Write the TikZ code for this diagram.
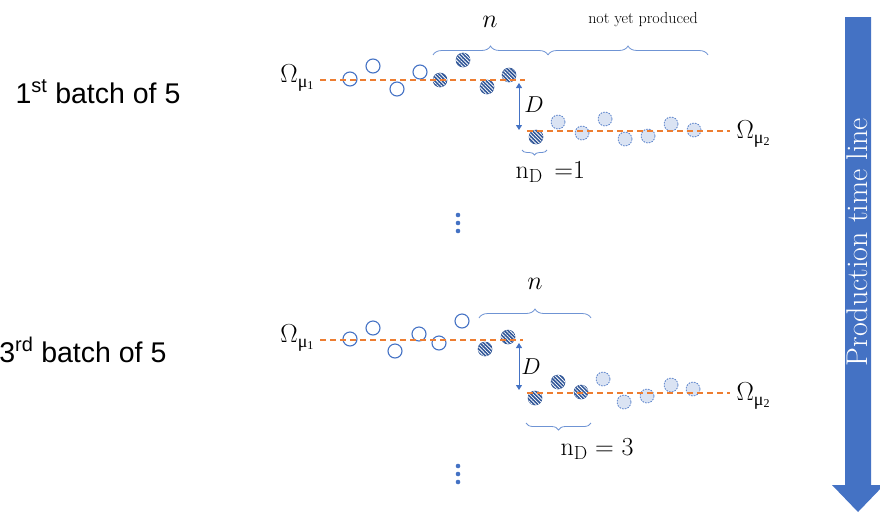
\RequirePackage{fix-cm}
\documentclass[tikz,border=0pt]{standalone}
\usepackage{amsmath}
\usepackage{fontspec}
\newfontfamily\sansf{Liberation Sans}
\newfontfamily\greekf{Liberation Serif}
\usetikzlibrary{positioning,arrows.meta,patterns.meta,decorations.pathreplacing}
\definecolor{cblue}{HTML}{4472C4}
\definecolor{cdark}{HTML}{2F5597}
\definecolor{clight}{HTML}{DAE3F3}
\definecolor{corange}{HTML}{ED7D31}
\definecolor{cbrace}{HTML}{6F94D4}
\newcommand{\omu}[1]{$\Omega$\raisebox{-5pt}{\greekf\fontsize{18}{18}\selectfont μ\raisebox{-2pt}{\fontsize{12}{12}\selectfont #1}}}
\newcommand{\nsub}{n\raisebox{-4pt}{\fontsize{19}{19}\selectfont D}}

\tikzset{
  good/.style={circle,draw=cblue,line width=1.1pt,minimum size=14pt,inner sep=0pt},
  defect/.style={circle,draw=cdark,fill=cdark,line width=0.6pt,minimum size=14pt,inner sep=0pt,
    postaction={pattern={Lines[angle=-45,distance=2.6pt,line width=0.8pt]},pattern color=white}},
  later/.style={circle,draw=cblue,fill=clight,line width=0.7pt,dash pattern=on 1.6pt off 1.2pt,minimum size=14pt,inner sep=0pt},
  level/.style={corange,line width=1.8pt,dash pattern=on 6pt off 4pt},
  grp/.style={decorate,decoration={brace,amplitude=#1},cbrace,line width=0.8pt},
  shiftarrow/.style={{Triangle[length=5pt,width=6pt]}-{Triangle[length=5pt,width=6pt]},cblue,line width=1pt},
  batch/.style={font=\sansf\fontsize{28.5}{32}\selectfont,anchor=base east},
  sym/.style={font=\fontsize{26}{30}\selectfont},
}

\begin{document}
\begin{tikzpicture}[x=1pt,y=-1pt]
  \useasboundingbox (0,0) rectangle (880,512);

  % production time line
  \fill[cblue] (845,17) -- (871,17) -- (871,485) -- (884,485) -- (858,512) -- (832,485) -- (845,485) -- cycle;
  \node[rotate=90,anchor=base,text=white,font=\fontsize{30}{34}\selectfont] (tline) at (867,242) {Production time line};

  \node[batch] (b1) at (184,103) {1\textsuperscript{st} batch of 5};
  \node[batch] (b3) at (170,362) {3\textsuperscript{rd} batch of 5};

  % first batch
  \node[sym,anchor=base east] (om1) at (317,82) {\omu1};
  \node[sym,anchor=base west] (om2) at (733,138) {\omu2};
  \coordinate (m1a) at (320,80); \coordinate (m1b) at (525,80);
  \coordinate (m2a) at (527,131); \coordinate (m2b) at (730,131);
  \path (350,79) node[good] (g1) {} (373,66) node[good] (g2) {} (397,89) node[good] (g3) {} (420,72) node[good] (g4) {};
  \path (440,80) node[defect] (f1) {} (463,60) node[defect] (f2) {} (487,87) node[defect] (f3) {}
        (509,75) node[defect] (f4) {} (536,137) node[defect] (f5) {};
  \path (558,122) node[later] (p1) {} (582,133) node[later] (p2) {} (605,119) node[later] (p3) {}
        (625,139) node[later] (p4) {} (648,136) node[later] (p5) {} (671,124) node[later] (p6) {}
        (694,130) node[later] (p7) {};
  \draw[level] (m1a) -- (m1b);
  \draw[level] (m2a) -- (m2b);
  \coordinate (d1a) at (519,83); \coordinate (d1b) at (519,130);
  \draw[shiftarrow] (d1a) -- (d1b);
  \node[sym,font=\fontsize{23}{26}\selectfont] (dl1) at (534,105) {$D$};
  \coordinate (n1l) at (433,55); \coordinate (n1r) at (548,55); \coordinate (y1r) at (708,55);
  \draw[grp=9pt] (n1l) -- (n1r);
  \draw[grp=9pt] (n1r) -- (y1r);
  \node[sym] (nl1) at (490,22) {$n$};
  \node[font=\fontsize{16}{18}\selectfont] (yet) at (643,20) {not yet produced};
  \coordinate (k1l) at (522,150); \coordinate (k1r) at (547,150);
  \draw[grp=5pt] (k1r) -- (k1l);
  \node[sym,anchor=base west] (kl1) at (512,178) {\nsub\ \,=1};

  \fill[cblue] (458,215) circle (2.3) (458,223) circle (2.3) (458,231) circle (2.3);

  % third batch
  \node[sym,anchor=base east] (om3) at (317,342) {\omu1};
  \node[sym,anchor=base west] (om4) at (733,400) {\omu2};
  \coordinate (m3a) at (320,340); \coordinate (m3b) at (523,340);
  \coordinate (m4a) at (527,393); \coordinate (m4b) at (730,393);
  \path (350,339) node[good] (g5) {} (373,328) node[good] (g6) {} (395,351) node[good] (g7) {}
        (419,334) node[good] (g8) {} (439,343) node[good] (g9) {} (462,321) node[good] (g10) {};
  \path (485,349) node[defect] (f6) {} (508,337) node[defect] (f7) {} (535,398) node[defect] (f8) {}
        (558,382) node[defect] (f9) {} (581,392) node[defect] (f10) {};
  \path (603,379) node[later] (p8) {} (624,402) node[later] (p9) {} (647,396) node[later] (p10) {}
        (671,385) node[later] (p11) {} (693,389) node[later] (p12) {};
  \draw[level] (m3a) -- (m3b);
  \draw[level] (m4a) -- (m4b);
  \coordinate (d2a) at (519,343); \coordinate (d2b) at (519,390);
  \draw[shiftarrow] (d2a) -- (d2b);
  \node[sym,font=\fontsize{23}{26}\selectfont] (dl2) at (531,367) {$D$};
  \coordinate (n2l) at (479,318); \coordinate (n2r) at (591,318);
  \draw[grp=9pt] (n2l) -- (n2r);
  \node[sym] (nl2) at (535,284) {$n$};
  \coordinate (k2l) at (526,423); \coordinate (k2r) at (591,423);
  \draw[grp=7pt] (k2r) -- (k2l);
  \node[sym,anchor=base west] (kl2) at (557,455) {\nsub{} $=$ 3};

  \fill[cblue] (458,466) circle (2.3) (458,474) circle (2.3) (458,482) circle (2.3);
\end{tikzpicture}
\end{document}
